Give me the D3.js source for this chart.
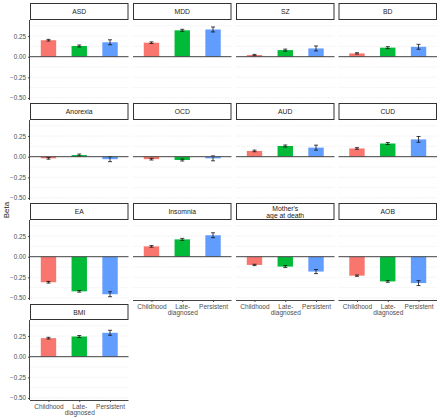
<!DOCTYPE html>
<html><head><meta charset="utf-8">
<script src="https://cdn.jsdelivr.net/npm/d3@7"></script>
<style>body{margin:0;background:#fff}svg{display:block}text{font-family:"Liberation Sans",Arial,sans-serif}</style>
</head><body>
<svg id="c" width="440" height="418"></svg>
<script>
const panels = ["ASD","MDD","SZ","BD","Anorexia","OCD","AUD","CUD","EA","Insomnia","Mother's\nage at death","AOB","BMI"];
const groups = ["Childhood","Late-\ndiagnosed","Persistent"];
const childhood  = [0.20, 0.17, 0.02, 0.04, -0.02, -0.03, 0.07, 0.10, -0.31, 0.125, -0.10, -0.23, 0.225];
const lateDiag   = [0.13, 0.32, 0.08, 0.11, 0.02, -0.04, 0.13, 0.16, -0.42, 0.21, -0.12, -0.30, 0.245];
const persistent = [0.175, 0.33, 0.10, 0.12, -0.03, -0.02, 0.11, 0.21, -0.455, 0.26, -0.18, -0.32, 0.29];
const seChildhood  = [0.010, 0.010, 0.008, 0.008, 0.010, 0.010, 0.010, 0.010, 0.010, 0.010, 0.008, 0.008, 0.010];
const seLate       = [0.012, 0.012, 0.012, 0.012, 0.012, 0.012, 0.012, 0.012, 0.010, 0.012, 0.012, 0.010, 0.012];
const sePersistent = [0.030, 0.030, 0.030, 0.030, 0.030, 0.030, 0.030, 0.035, 0.030, 0.030, 0.025, 0.030, 0.030];
const yTicks = [0.25, 0, -0.25, -0.5];
const yTickLabels = ["0.25","0.00","\u22120.25","\u22120.50"];
const colors = ["#F8766D","#00BA38","#619CFF"];

const svg = d3.select("#c");
const colLeft = [30, 133, 236, 338.5];
const pw = 98.5;
const rowTop = [3, 103, 203, 304];
const stripHs = [17, 17, 17, 16];
const ph = 80;

// ggplot discrete: expand 0.6 units each side, bar width 0.5
const xc = d3.scalePoint().domain(groups).range([pw*0.6/3.2, pw*2.6/3.2]);
const unit = pw/3.2;
const y = d3.scaleLinear().domain([-0.525, 0.445]).range([ph, 0]);

const series = [childhood, lateDiag, persistent];
const ses = [seChildhood, seLate, sePersistent];

panels.forEach((name, i) => {
  const r = Math.floor(i/4), c = i%4;
  const stripH = stripHs[r];
  const g = svg.append("g").attr("transform", `translate(${colLeft[c]},${rowTop[r]})`);
  g.append("rect").attr("x",0.5).attr("y",0.5).attr("width",pw-1).attr("height",stripH-1)
    .attr("fill","#fff").attr("stroke","#333").attr("stroke-width",1);
  const lines = name.split("\n");
  lines.forEach((l, k) => {
    g.append("text").attr("x", pw/2).attr("y", stripH/2 + 2.5 + (k - (lines.length-1)/2)*7)
      .attr("text-anchor","middle").attr("font-size", 6.8).attr("fill","#1a1a1a").text(l);
  });
  const p = g.append("g").attr("transform", `translate(0,${stripH})`);
  d3.range(-0.5, 0.45, 0.125).forEach(v => {
    p.append("line").attr("x1",0).attr("x2",pw).attr("y1",y(v)).attr("y2",y(v))
      .attr("stroke", "#ececec").attr("stroke-width",0.8).attr("stroke-dasharray","1.5,1");
  });
  groups.forEach((gname, j) => {
    const v = series[j][i], se = ses[j][i];
    const cx = xc(gname);
    p.append("rect").attr("x", cx - unit*0.25).attr("width", unit*0.5)
      .attr("y", y(Math.max(0,v))).attr("height", Math.abs(y(v)-y(0)))
      .attr("fill", colors[j]);
    const eg = p.append("g").attr("stroke","#111").attr("stroke-width",0.8);
    eg.append("line").attr("x1",cx).attr("x2",cx).attr("y1",y(v-se)).attr("y2",y(v+se));
    eg.append("line").attr("x1",cx-2).attr("x2",cx+2).attr("y1",y(v-se)).attr("y2",y(v-se));
    eg.append("line").attr("x1",cx-2).attr("x2",cx+2).attr("y1",y(v+se)).attr("y2",y(v+se));
  });
  p.append("line").attr("x1",0).attr("x2",pw).attr("y1",y(0)).attr("y2",y(0))
    .attr("stroke","#444").attr("stroke-width",1);
  if (c === 0) {
    const ya = p.append("g").call(d3.axisLeft(y).tickValues(yTicks).tickSize(2).tickPadding(2)
      .tickFormat((d,k)=>yTickLabels[k]));
    ya.select(".domain").attr("stroke","#444").attr("d", `M-0.5,0V${ph}`);
    ya.selectAll(".tick line").attr("stroke","#444");
    ya.selectAll("text").attr("font-size",6.3).attr("fill","#4d4d4d");
  }
  const isBottom = (i + 4 >= panels.length);
  if (isBottom) {
    const xa = p.append("g").attr("transform",`translate(0,${ph})`)
      .call(d3.axisBottom(xc).tickSize(2).tickPadding(2).tickFormat(""));
    xa.select(".domain").attr("stroke","#444").attr("d", `M0,0.5H${pw}`);
    xa.selectAll(".tick line").attr("stroke","#444");
    xa.selectAll(".tick").each(function(d){
      const t = d3.select(this);
      d.split("\n").forEach((l,k) => {
        t.append("text").attr("y", 8.5 + k*6.6).attr("text-anchor","middle")
          .attr("font-size",6.5).attr("fill","#4d4d4d").text(l);
      });
    });
  }
});

svg.append("text").attr("transform","translate(9,210) rotate(-90)").attr("text-anchor","middle")
  .attr("font-size",8).attr("fill","#1a1a1a").text("Beta");
</script>
</body></html>
